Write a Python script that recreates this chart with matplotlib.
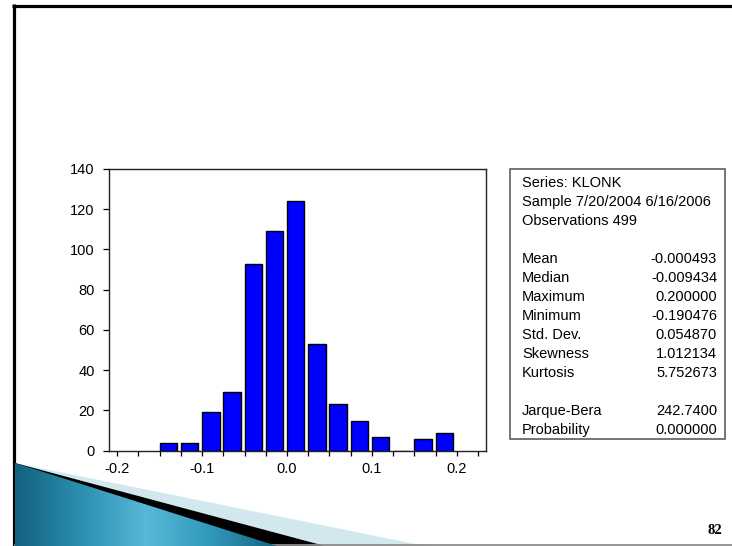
import numpy as np
import matplotlib.pyplot as plt
from matplotlib.patches import Polygon, Rectangle
from matplotlib.colors import LinearSegmentedColormap

plt.rcParams['font.family'] = ['Liberation Sans', 'DejaVu Sans']

# histogram of KLONK (EViews style output on a slide)
bin_left = [-0.150, -0.125, -0.100, -0.075, -0.050, -0.025, 0.000,
            0.025, 0.050, 0.075, 0.100, 0.125, 0.150, 0.175]
counts = [4, 4, 19, 29, 93, 109, 124, 53, 23, 15, 7, 0, 6, 9]

x_ticks = [-0.2, -0.1, 0.0, 0.1, 0.2]
x_labels = ['-0.2', '-0.1', '0.0', '0.1', '0.2']
y_ticks = [0, 20, 40, 60, 80, 100, 120, 140]

header = ["Series: KLONK", "Sample 7/20/2004 6/16/2006", "Observations 499"]
stat_names = ["Mean", "Median", "Maximum", "Minimum", "Std. Dev.", "Skewness", "Kurtosis"]
stat_values = ["-0.000493", "-0.009434", "0.200000", "-0.190476",
               "0.054870", "1.012134", "5.752673"]
test_names = ["Jarque-Bera", "Probability"]
test_values = ["242.7400", "0.000000"]

page_no = "82"

W, H = 732, 546
fig = plt.figure(figsize=(W / 100, H / 100), dpi=100)

# --- slide decoration, pixel coordinates ---
deco = fig.add_axes([0, 0, 1, 1])
deco.axis('off')

deco.plot([12, W], [5.5, 5.5], color='black', lw=2.3, solid_capstyle='butt')
deco.plot([13.5, 13.5], [4, H], color='black', lw=2.3, solid_capstyle='butt')
deco.plot([15, W], [544.5, 544.5], color='#8c8c8c', lw=1.3)

# swoosh in the lower left corner
deco.add_patch(Polygon([(15, 463), (425, 546), (15, 546)], closed=True,
                       facecolor='#d3e7ef', lw=0))
deco.add_patch(Polygon([(15, 463), (325, 546), (15, 546)], closed=True,
                       facecolor='black', lw=0))
teal = Polygon([(15, 463), (277, 546), (15, 546)], closed=True,
               facecolor='none', lw=0)
deco.add_patch(teal)
cmap = LinearSegmentedColormap.from_list(
    'teal', ['#15607f', '#2a8fb0', '#58b8d7', '#3099ba', '#15657f'])
grad = np.linspace(0, 1, 256).reshape(1, -1)
im = deco.imshow(grad, cmap=cmap, extent=[15, 277, 546, 463], aspect='auto',
                 zorder=3)
im.set_clip_path(teal)

# stats box
deco.add_patch(Rectangle((510, 169), 215, 270, fill=False,
                         edgecolor='#505050', lw=1.1))
row_h = 19
y0 = 183.3
for i, s in enumerate(header):
    deco.text(522, y0 + i * row_h, s, ha='left', va='center', fontsize=10.5)
for i, (n, v) in enumerate(zip(stat_names, stat_values)):
    y = y0 + (4 + i) * row_h
    deco.text(522, y, n, ha='left', va='center', fontsize=10.5)
    deco.text(717, y, v, ha='right', va='center', fontsize=10.5)
for i, (n, v) in enumerate(zip(test_names, test_values)):
    y = y0 + (12 + i) * row_h
    deco.text(522, y, n, ha='left', va='center', fontsize=10.5)
    deco.text(717, y, v, ha='right', va='center', fontsize=10.5)

deco.text(715, 530, page_no, ha='center', va='center', fontsize=10.5,
          family='Liberation Serif', weight='bold')

deco.set_xlim(0, W)
deco.set_ylim(H, 0)

# --- histogram ---
ax = fig.add_axes([109.3 / W, 1 - 450.7 / H, (486 - 109.3) / W, (450.7 - 169) / H])
ax.bar(bin_left, counts, width=0.0205, align='edge', color='#0000ff',
       edgecolor='black', lw=1)
ax.set_xlim(-0.2094, 0.2345)
ax.set_ylim(0, 140)
ax.set_xticks(x_ticks)
ax.set_xticklabels(x_labels)
ax.set_xticks(np.arange(-0.2, 0.23, 0.025), minor=True)
ax.set_yticks(y_ticks)
ax.tick_params(axis='x', which='both', direction='out', length=3.6, width=0.9,
               labelsize=10.5, pad=4.8)
ax.tick_params(axis='y', direction='out', length=4, width=0.9,
               labelsize=10.5, pad=6.5)
for sp in ax.spines.values():
    sp.set_linewidth(1)
    sp.set_color('#222222')

fig.savefig('out.png', dpi=100)
